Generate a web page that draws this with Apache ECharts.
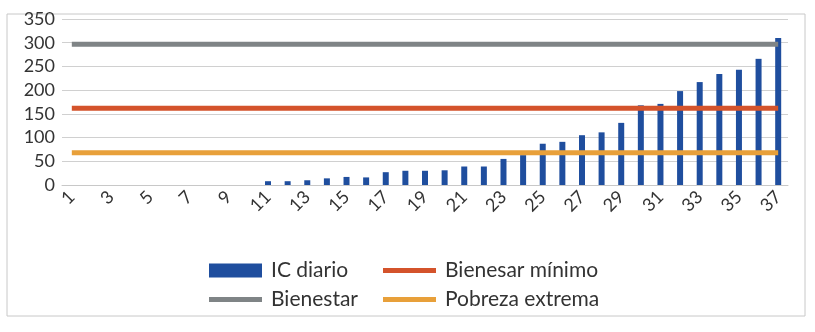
<!DOCTYPE html>
<html>
<head>
<meta charset="utf-8">
<script src="https://cdn.jsdelivr.net/npm/echarts@6/dist/echarts.min.js"></script>
<style>
  html, body { margin: 0; padding: 0; background: #fff; }
  #chart { width: 815px; height: 332px; }
</style>
</head>
<body>
<div id="chart"></div>
<script>
// datos
var categorias = [];
for (var i = 1; i <= 37; i++) categorias.push(String(i));
var icDiario = [0, 0, 0, 0, 0, 0, 0, 0, 0, 0,
  8, 8, 10, 14, 17, 16, 27, 30, 30, 31,
  39, 39, 55, 63, 87, 91, 105, 111, 131, 168,
  171, 198, 217, 234, 243, 266, 310];
var bienestar = categorias.map(function () { return 297; });
var bienestarMinimo = categorias.map(function () { return 162; });
var pobrezaExtrema = categorias.map(function () { return 68; });

var fuente = 'Lato, "Open Sans", sans-serif';
var textoColor = '#333333';

var myChart = echarts.init(document.getElementById('chart'));

function leyenda(nombre, left, top, h) {
  return {
    data: [nombre],
    left: left,
    top: top,
    icon: 'rect',
    itemWidth: 53,
    itemHeight: h,
    itemGap: 0,
    textStyle: { color: textoColor, fontSize: 21, fontFamily: fuente, padding: [0, 0, 0, 4] }
  };
}

myChart.setOption({
  animation: false,
  graphic: [{
    type: 'rect',
    shape: { x: 7, y: 14, width: 798, height: 302 },
    style: { fill: 'none', stroke: '#c8c8c8', lineWidth: 1 },
    silent: true
  }],
  grid: {
    left: 62, //izquierda
    right: 27,
    top: 19,
    bottom: 147
  },
  legend: [
    leyenda('IC diario', 204, 255, 14),
    leyenda('Bienesar mínimo', 378, 255, 5),
    leyenda('Bienestar', 204, 284, 5),
    leyenda('Pobreza extrema', 378, 284, 5)
  ],
  xAxis: {
    type: 'category',
    data: categorias,
    axisLine: { lineStyle: { color: '#c8c8c8' } },
    axisTick: { show: false },
    axisLabel: {
      interval: 1,
      rotate: 45,
      margin: 9,
      color: textoColor,
      fontSize: 18,
      fontFamily: fuente
    }
  },
  yAxis: {
    type: 'value',
    min: 0,
    max: 350,
    interval: 50,
    axisLine: { show: false },
    axisTick: { show: false },
    axisLabel: {
      margin: 7,
      color: textoColor,
      fontSize: 18,
      fontFamily: fuente
    },
    splitLine: { lineStyle: { color: '#d0d0d0' } }
  },
  series: [
    {
      name: 'IC diario',
      type: 'bar',
      barWidth: 6,
      itemStyle: { color: '#1f4e9e' },
      data: icDiario
    },
    {
      name: 'Bienestar',
      type: 'line',
      showSymbol: false,
      lineStyle: { width: 5, color: '#7f8486' },
      itemStyle: { color: '#7f8486' },
      data: bienestar
    },
    {
      name: 'Bienesar mínimo',
      type: 'line',
      showSymbol: false,
      lineStyle: { width: 5, color: '#d4532b' },
      itemStyle: { color: '#d4532b' },
      data: bienestarMinimo
    },
    {
      name: 'Pobreza extrema',
      type: 'line',
      showSymbol: false,
      lineStyle: { width: 5, color: '#e8a03a' },
      itemStyle: { color: '#e8a03a' },
      data: pobrezaExtrema
    }
  ]
});
</script>
</body>
</html>
